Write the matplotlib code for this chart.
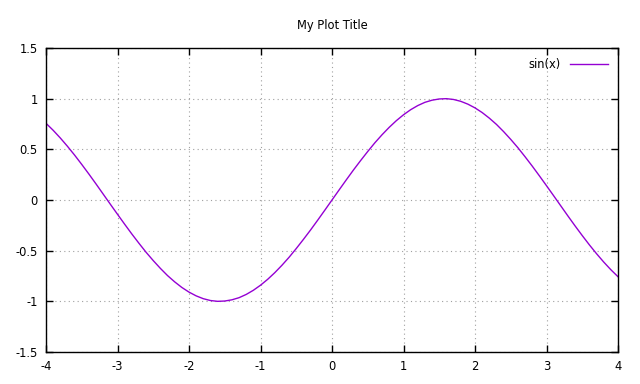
import matplotlib
matplotlib.use("Agg")
import matplotlib.pyplot as plt

x_vals = [-4.0, -3.9, -3.8, -3.7, -3.6, -3.5, -3.4, -3.3, -3.2, -3.1,
          -3.0, -2.9, -2.8, -2.7, -2.6, -2.5, -2.4, -2.3, -2.2, -2.1,
          -2.0, -1.9, -1.8, -1.7, -1.6, -1.5, -1.4, -1.3, -1.2, -1.1,
          -1.0, -0.9, -0.8, -0.7, -0.6, -0.5, -0.4, -0.3, -0.2, -0.1,
          0.0, 0.1, 0.2, 0.3, 0.4, 0.5, 0.6, 0.7, 0.8, 0.9,
          1.0, 1.1, 1.2, 1.3, 1.4, 1.5, 1.6, 1.7, 1.8, 1.9,
          2.0, 2.1, 2.2, 2.3, 2.4, 2.5, 2.6, 2.7, 2.8, 2.9,
          3.0, 3.1, 3.2, 3.3, 3.4, 3.5, 3.6, 3.7, 3.8, 3.9, 4.0]
y_vals = [0.757, 0.688, 0.612, 0.530, 0.443, 0.351, 0.256, 0.158, 0.058, -0.042,
          -0.141, -0.239, -0.335, -0.427, -0.516, -0.598, -0.675, -0.746, -0.808, -0.863,
          -0.909, -0.946, -0.974, -0.992, -1.000, -0.997, -0.985, -0.964, -0.932, -0.891,
          -0.841, -0.783, -0.717, -0.644, -0.565, -0.479, -0.389, -0.296, -0.199, -0.100,
          0.000, 0.100, 0.199, 0.296, 0.389, 0.479, 0.565, 0.644, 0.717, 0.783,
          0.841, 0.891, 0.932, 0.964, 0.985, 0.997, 1.000, 0.992, 0.974, 0.946,
          0.909, 0.863, 0.808, 0.746, 0.675, 0.598, 0.516, 0.427, 0.335, 0.239,
          0.141, 0.042, -0.058, -0.158, -0.256, -0.351, -0.443, -0.530, -0.612, -0.688, -0.757]

x_ticks = [-4, -3, -2, -1, 0, 1, 2, 3, 4]
x_labels = ["-4", "-3", "-2", "-1", "0", "1", "2", "3", "4"]
y_ticks = [-1.5, -1, -0.5, 0, 0.5, 1, 1.5]
y_labels = ["-1.5", "-1", "-0.5", "0", "0.5", "1", "1.5"]

plt.rcParams['font.family'] = ['DejaVu Sans']
plt.rcParams['font.size'] = 8.3

fig = plt.figure(figsize=(6.4, 3.84), dpi=100)
ax = fig.add_axes([46/640, 1-352/384, (618-46)/640, (352-48)/384])

ax.plot(x_vals, y_vals, color="#9400d3", lw=1, label="sin(x)")

ax.set_xlim(-4, 4)
ax.set_ylim(-1.5, 1.5)
ax.set_xticks(x_ticks)
ax.set_xticklabels(x_labels)
ax.set_yticks(y_ticks)
ax.set_yticklabels(y_labels)
ax.tick_params(direction="in", length=5, width=1, top=True, right=True, pad=6)
ax.grid(True, linestyle=(0, (1, 3)), color="#a0a0a0", lw=0.8)
for s in ax.spines.values():
    s.set_linewidth(1)

ax.set_title("My Plot Title", fontsize=8.3, pad=14)
ax.legend(loc="upper right", frameon=False, markerfirst=False,
          handlelength=3.3, borderaxespad=0.5)

fig.savefig("out.png", dpi=100)
